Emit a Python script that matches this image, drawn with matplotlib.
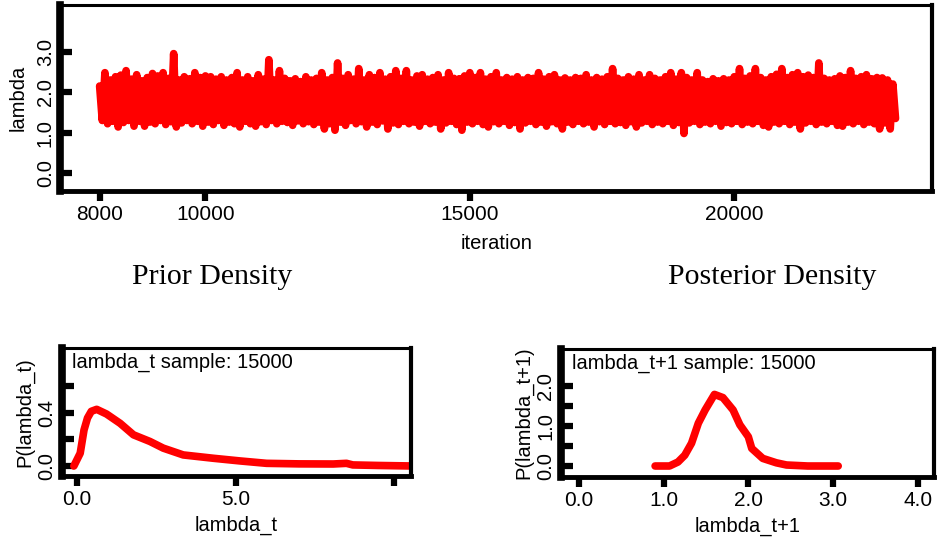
import numpy as np
import matplotlib
matplotlib.use('Agg')
from matplotlib import pyplot as plt

#----------------------------Data----------------------------------------------#
# trace of lambda, read off the picture as upper / lower edge of the band,
# one pair every 100 iterations from 8000 on
trace_hi = [2.15, 2.48, 2.30, 2.38, 2.42, 2.53, 2.32, 2.43, 2.28, 2.36,
            2.46, 2.40, 2.48, 2.34, 2.95, 2.30, 2.38, 2.33, 2.48, 2.36,
            2.40, 2.38, 2.32, 2.38, 2.30, 2.36, 2.48, 2.30, 2.38, 2.28,
            2.43, 2.32, 2.80, 2.30, 2.53, 2.34, 2.28, 2.33, 2.26, 2.38,
            2.30, 2.34, 2.48, 2.30, 2.36, 2.72, 2.34, 2.43, 2.32, 2.58,
            2.30, 2.43, 2.36, 2.48, 2.32, 2.38, 2.53, 2.34, 2.53, 2.30,
            2.40, 2.43, 2.32, 2.36, 2.43, 2.30, 2.48, 2.34, 2.33, 2.40,
            2.48, 2.36, 2.48, 2.32, 2.38, 2.48, 2.30, 2.36, 2.32, 2.38,
            2.30, 2.36, 2.34, 2.48, 2.32, 2.38, 2.43, 2.30, 2.35, 2.30,
            2.36, 2.34, 2.43, 2.30, 2.36, 2.32, 2.38, 2.58, 2.34, 2.30,
            2.38, 2.32, 2.43, 2.30, 2.43, 2.34, 2.30, 2.38, 2.48, 2.32,
            2.48, 2.36, 2.30, 2.48, 2.30, 2.26, 2.33, 2.28, 2.33, 2.30,
            2.38, 2.58, 2.34, 2.40, 2.58, 2.36, 2.30, 2.38, 2.44, 2.58,
            2.36, 2.43, 2.48, 2.38, 2.42, 2.36, 2.72, 2.34, 2.30, 2.33,
            2.40, 2.36, 2.53, 2.34, 2.38, 2.43, 2.33, 2.36, 2.35, 2.30,
            2.20]
trace_lo = [1.30, 1.22, 1.28, 1.14, 1.25, 1.30, 1.16, 1.28, 1.16, 1.26,
            1.22, 1.30, 1.20, 1.27, 1.14, 1.24, 1.30, 1.22, 1.28, 1.16,
            1.26, 1.20, 1.30, 1.18, 1.26, 1.22, 1.14, 1.28, 1.22, 1.16,
            1.27, 1.20, 1.30, 1.22, 1.28, 1.25, 1.18, 1.29, 1.22, 1.27,
            1.20, 1.26, 1.09, 1.22, 1.06, 1.26, 1.18, 1.30, 1.22, 1.27,
            1.14, 1.26, 1.20, 1.29, 1.09, 1.24, 1.20, 1.28, 1.22, 1.26,
            1.16, 1.28, 1.22, 1.26, 1.09, 1.24, 1.28, 1.20, 1.06, 1.26,
            1.22, 1.28, 1.20, 1.14, 1.27, 1.22, 1.28, 1.18, 1.25, 1.09,
            1.24, 1.28, 1.20, 1.26, 1.16, 1.27, 1.22, 1.09, 1.26, 1.20,
            1.28, 1.22, 1.26, 1.14, 1.27, 1.20, 1.28, 1.22, 1.25, 1.18,
            1.27, 1.14, 1.24, 1.28, 1.20, 1.26, 1.22, 1.28, 1.18, 1.25,
            0.98, 1.24, 1.28, 1.20, 1.26, 1.22, 1.28, 1.16, 1.25, 1.22,
            1.28, 1.20, 1.26, 1.22, 1.28, 1.18, 1.14, 1.26, 1.22, 1.28,
            1.20, 1.26, 1.09, 1.24, 1.28, 1.20, 1.26, 1.22, 1.28, 1.18,
            1.16, 1.26, 1.22, 1.28, 1.20, 1.26, 1.22, 1.09, 1.24, 1.09,
            1.35]
trace_start = 8000
trace_step = 50

# prior density of lambda_t
prior_x = [-0.1, 0.1, 0.22, 0.33, 0.45, 0.62, 0.93, 1.36, 1.78, 2.3, 2.72,
           3.35, 4.3, 5.14, 5.98, 7.0, 8.08, 8.5, 8.7, 9.5, 10.6]
prior_y = [0.0, 0.096, 0.27, 0.36, 0.41, 0.425, 0.39, 0.32, 0.234, 0.184,
           0.134, 0.083, 0.058, 0.038, 0.02, 0.016, 0.015, 0.02, 0.008,
           0.004, 0.0]

# posterior density of lambda_t+1
post_x = [0.9, 1.07, 1.17, 1.25, 1.33, 1.41, 1.49, 1.6, 1.7, 1.82, 1.9, 2.0,
          2.04, 2.17, 2.33, 2.45, 2.7, 3.06]
post_y = [0.0, 0.0, 0.1, 0.27, 0.57, 1.07, 1.4, 1.79, 1.71, 1.4, 1.03, 0.73,
          0.44, 0.19, 0.08, 0.025, 0.0, 0.0]

trace_xticks = [8000, 10000, 15000, 20000]
trace_yticks = [0.0, 1.0, 2.0, 3.0]
prior_xticks = [0.0, 5.0, 10.0]
prior_xlabels = ['0.0', '5.0', '']
prior_yticks = [0.0, 0.2, 0.4, 0.6]
prior_ylabels = ['0.0', '', '0.4', '']
post_xticks = [0.0, 1.0, 2.0, 3.0, 4.0]
post_yticks = [0.0, 0.5, 1.0, 1.5, 2.0]
post_ylabels = ['0.0', '', '1.0', '', '2.0']

#----------------------------Setup---------------------------------------------#
RED = '#ff0000'
plt.rcParams['font.family'] = ['Liberation Sans', 'DejaVu Sans']
plt.rcParams['font.size'] = 14.5

W, H = 939, 543
fig = plt.figure(figsize=(W / 100, H / 100), dpi=100)


def px_axes(l, t, r, b):
    # axes from pixel box (left, top, right, bottom)
    return fig.add_axes([l / W, 1 - b / H, (r - l) / W, (b - t) / H])


def style(ax):
    ax.spines['left'].set_linewidth(5.5)
    ax.spines['bottom'].set_linewidth(3.5)
    ax.spines['right'].set_linewidth(3.0)
    ax.spines['top'].set_linewidth(2.2)
    ax.tick_params(axis='y', direction='in', length=8.5, width=4.5, pad=4,
                   labelsize=14.5)
    ax.tick_params(axis='x', direction='out', length=7, width=4.5, pad=3,
                   labelsize=15)
    for lab in ax.get_yticklabels():
        lab.set_rotation(90)
        lab.set_va('center')


#----------------------------Trace---------------------------------------------#
ax1 = px_axes(60.5, 5, 932, 191)
vals = np.column_stack([trace_hi, trace_lo]).ravel()
iters = trace_start + trace_step * np.arange(len(vals))
ax1.plot(iters, vals, color=RED, lw=5.5, solid_capstyle='round',
         solid_joinstyle='round')
ax1.set_xlim(7260, 23740)
ax1.set_ylim(-0.44, 4.15)
ax1.set_xticks(trace_xticks)
ax1.set_xticklabels([str(v) for v in trace_xticks])
ax1.set_yticks(trace_yticks)
ax1.set_yticklabels(['%.1f' % v for v in trace_yticks])
ax1.set_xlabel('iteration', labelpad=7)
ax1.set_ylabel('lambda', labelpad=6)
style(ax1)

#----------------------------Titles--------------------------------------------#
fig.text(212 / W, 1 - 277 / H, 'Prior Density', ha='center', va='center',
         family='Liberation Serif', fontsize=21.5)
fig.text(772 / W, 1 - 277 / H, 'Posterior Density', ha='center', va='center',
         family='Liberation Serif', fontsize=21.5)

#----------------------------Prior---------------------------------------------#
ax2 = px_axes(61.5, 348, 410.5, 476)
ax2.plot(prior_x, prior_y, color=RED, lw=5.5, solid_capstyle='round',
         solid_joinstyle='round')
ax2.set_xlim(-0.49, 10.52)
ax2.set_ylim(-0.075, 0.885)
ax2.set_xticks(prior_xticks)
ax2.set_xticklabels(prior_xlabels)
ax2.set_yticks(prior_yticks)
ax2.set_yticklabels(prior_ylabels)
ax2.set_xlabel('lambda_t', labelpad=5)
ax2.set_ylabel('P(lambda_t)', labelpad=2)
ax2.text(0.03, 0.965, 'lambda_t sample: 15000', transform=ax2.transAxes,
         ha='left', va='top', fontsize=14.5)
style(ax2)

#----------------------------Posterior-----------------------------------------#
ax3 = px_axes(561, 349, 934, 477)
ax3.plot(post_x, post_y, color=RED, lw=5.5, solid_capstyle='round',
         solid_joinstyle='round')
ax3.set_xlim(-0.21, 4.19)
ax3.set_ylim(-0.275, 2.925)
ax3.set_xticks(post_xticks)
ax3.set_xticklabels(['%.1f' % v for v in post_xticks])
ax3.set_yticks(post_yticks)
ax3.set_yticklabels(post_ylabels)
ax3.set_xlabel('lambda_t+1', labelpad=5)
ax3.set_ylabel('P(lambda_t+1)', labelpad=2)
ax3.text(0.029, 0.965, 'lambda_t+1 sample: 15000', transform=ax3.transAxes,
         ha='left', va='top', fontsize=14.5)
style(ax3)

fig.savefig('out.png', dpi=100)
